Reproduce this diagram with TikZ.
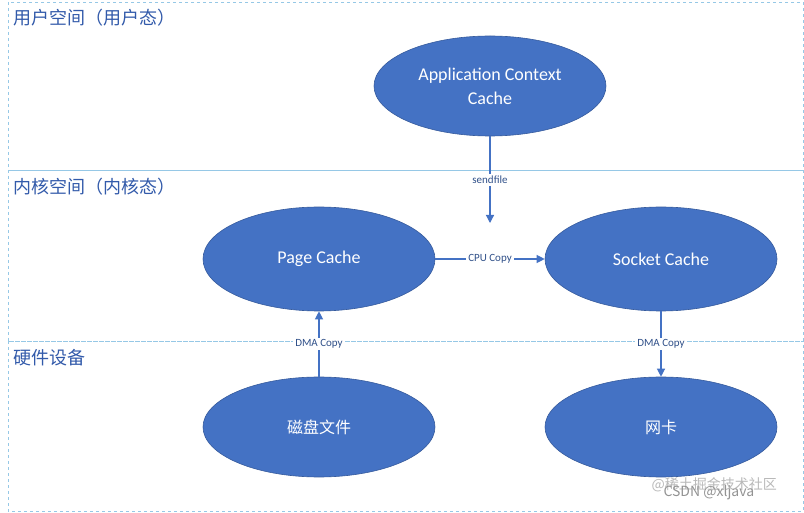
\documentclass[tikz,border=0pt]{standalone}
\usepackage{fontspec}
\setmainfont{Carlito}
\newfontfamily\cjk{Noto Sans CJK SC}
\usetikzlibrary{shapes.geometric,arrows.meta}
\definecolor{ell}{RGB}{68,114,196}
\definecolor{zone}{RGB}{150,200,230}
\definecolor{ttl}{RGB}{50,90,170}
\begin{document}
\begin{tikzpicture}[x=1pt,y=-1pt,
  zonebox/.style={draw=zone,dashed,line width=0.8pt},
  el/.style={ellipse,fill=ell,draw=ell!80!black,line width=0.6pt,text=white,font=\fontsize{18}{24}\selectfont,align=center,inner sep=0pt},
  ttlt/.style={anchor=west,text=ttl,font=\cjk\fontsize{18}{20}\selectfont},
  arr/.style={-{Triangle[length=8pt,width=8pt]},draw=ell,line width=1.2pt},
  lbl/.style={fill=white,text=ell!70!black,font=\fontsize{11}{13}\selectfont,inner sep=2pt}]
\useasboundingbox (0,0) rectangle (804,513);
\fill[white] (0,0) rectangle (804,513);
\draw[zonebox] (8,2) rectangle (803,170);
\draw[zonebox] (8,170) rectangle (803,341);
\draw[zonebox] (8,341) rectangle (803,511);
\node[ttlt] (t1) at (10,18) {用户空间（用户态）};
\node[ttlt] (t2) at (10,187) {内核空间（内核态）};
\node[ttlt] (t3) at (10,358) {硬件设备};
\node[el,minimum width=232pt,minimum height=100pt] (app) at (490,86) {Application Context\\Cache};
\node[el,minimum width=232pt,minimum height=104pt] (page) at (319,259) {Page Cache};
\node[el,minimum width=232pt,minimum height=104pt] (sock) at (661,259) {Socket Cache};
\node[el,minimum width=232pt,minimum height=100pt,font=\cjk\fontsize{16}{18}\selectfont] (disk) at (319,427) {磁盘文件};
\node[el,minimum width=232pt,minimum height=100pt,font=\cjk\fontsize{16}{18}\selectfont] (nic) at (661,427) {网卡};
\draw[arr] (app.south) -- node[lbl]{sendfile} (490,223);
\draw[arr] (page.east) -- node[lbl]{CPU Copy} (sock.west);
\draw[arr] (disk.north) -- node[lbl]{DMA Copy} (page.south);
\draw[arr] (sock.south) -- node[lbl]{DMA Copy} (nic.north);
\node[text=gray!55,font=\cjk\fontsize{14}{16}\selectfont,anchor=west] (w1) at (648,485) {@稀土掘金技术社区};
\node[text=gray!85,font=\cjk\fontsize{14}{16}\selectfont,anchor=west] (w2) at (660,493) {CSDN @xljava};
\end{tikzpicture}
\end{document}
